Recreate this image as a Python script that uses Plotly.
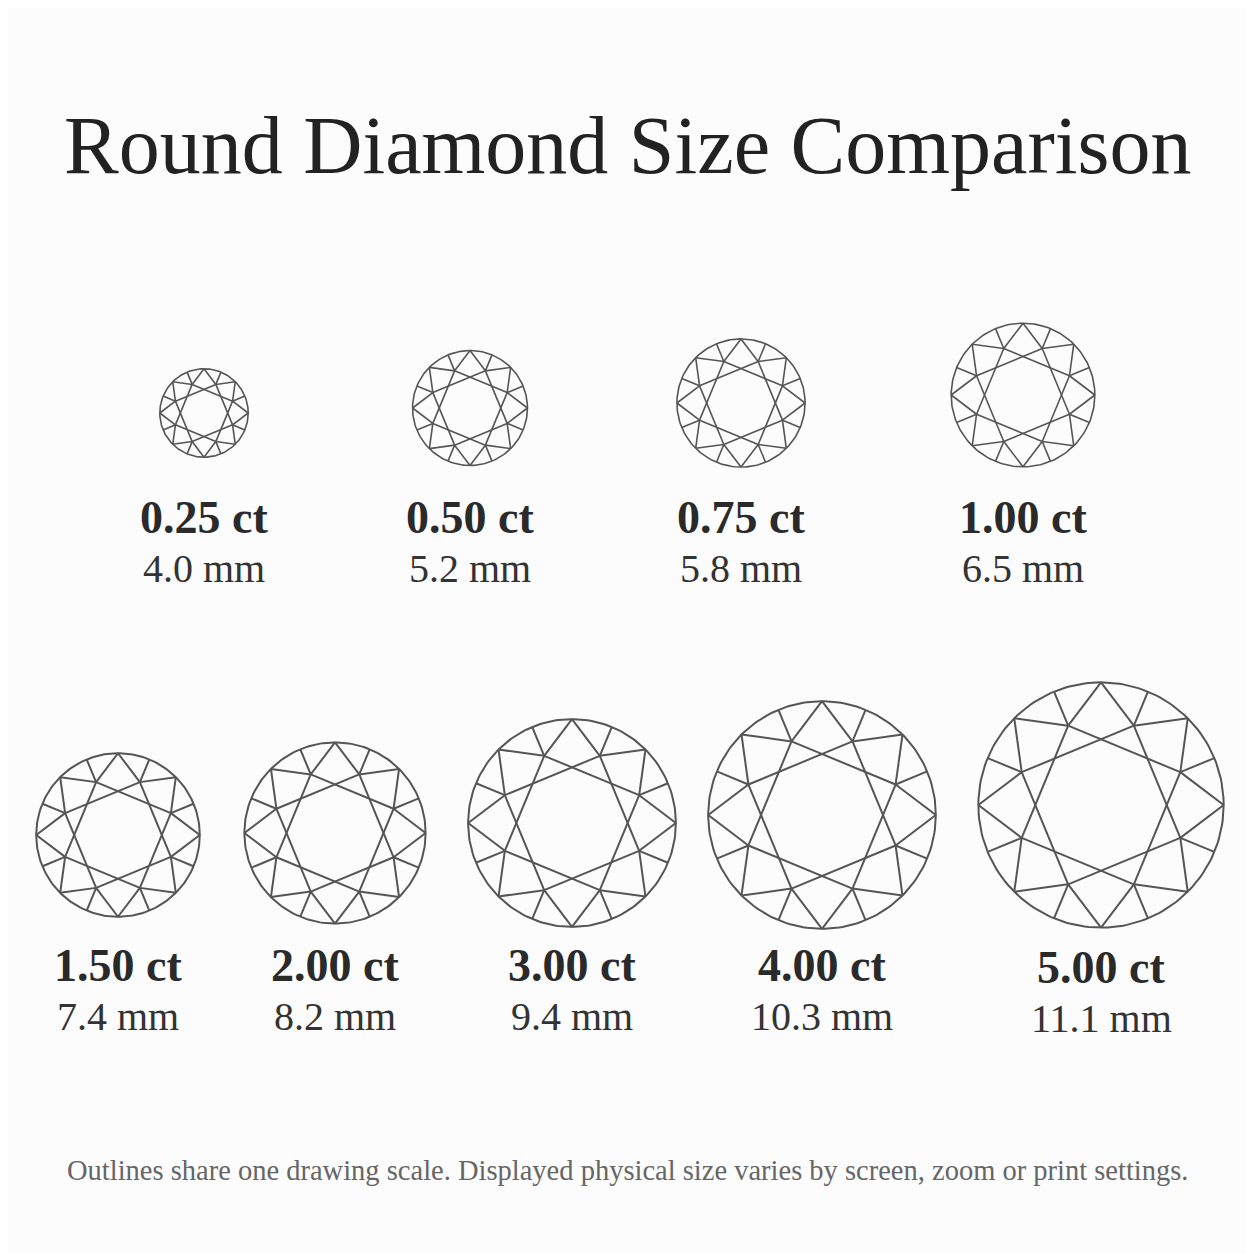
import numpy as np
import plotly.graph_objects as go

carats = ["0.25 ct", "0.50 ct", "0.75 ct", "1.00 ct", "1.50 ct", "2.00 ct", "3.00 ct", "4.00 ct", "5.00 ct"]
diam_mm = [4.0, 5.2, 5.8, 6.5, 7.4, 8.2, 9.4, 10.3, 11.1]

# layout (pixel-space positions)
cx = [204, 470, 741, 1023, 118, 335, 572, 822, 1101]
cy = [413, 408, 403, 395, 835, 833, 823, 815, 805]
label_y = [517, 517, 517, 517, 965, 965, 965, 965, 967]
PX_PER_MM = 22.1

fig = go.Figure()

def diamond(x0, y0, R):
    xs, ys = [], []
    t = np.linspace(0, 2 * np.pi, 200)
    xs += list(x0 + R * np.cos(t)) + [None]
    ys += list(y0 + R * np.sin(t)) + [None]
    def C(k):
        a = np.deg2rad(45 * k - 90)
        return x0 + R * np.cos(a), y0 + R * np.sin(a)
    def P(k, r=0.70):
        a = np.deg2rad(45 * k + 22.5 - 90)
        return x0 + R * r * np.cos(a), y0 + R * r * np.sin(a)
    def seg(p, q):
        xs.extend([p[0], q[0], None]); ys.extend([p[1], q[1], None])
    for k in range(8):
        seg(C(k), P(k)); seg(C(k), P(k - 1))
        seg(P(k), P(k + 2))
        seg(P(k), P(k, 1.0))
    return xs, ys

for i, d in enumerate(diam_mm):
    R = d * PX_PER_MM / 2
    xs, ys = diamond(cx[i], cy[i], R)
    fig.add_trace(go.Scatter(x=xs, y=ys, mode="lines", line=dict(color="#555555", width=1.6 if d < 7 else 2),
                             hoverinfo="skip", showlegend=False))
    fig.add_annotation(x=cx[i], y=label_y[i], text=f"<b>{carats[i]}</b>", showarrow=False,
                       font=dict(family="Liberation Serif", size=46, color="#2a2a2a"))
    fig.add_annotation(x=cx[i], y=label_y[i] + 51, text=f"{d:.1f} mm", showarrow=False,
                       font=dict(family="Liberation Serif", size=40, color="#333333"))

fig.add_annotation(x=627, y=145, text="Round Diamond Size Comparison", showarrow=False,
                   font=dict(family="Liberation Serif", size=82, color="#222222"))
fig.add_annotation(x=627, y=1170, text="Outlines share one drawing scale. Displayed physical size varies by screen, zoom or print settings.",
                   showarrow=False, font=dict(family="Liberation Serif", size=28.5, color="#666666"))

fig.update_layout(width=1254, height=1254, margin=dict(l=0, r=0, t=0, b=0),
                  paper_bgcolor="#fcfcfc", plot_bgcolor="#fcfcfc",
                  xaxis=dict(range=[8, 1262], visible=False),
                  yaxis=dict(range=[1262, 8], visible=False, scaleanchor="x", scaleratio=1))
fig.write_html("out.html")
